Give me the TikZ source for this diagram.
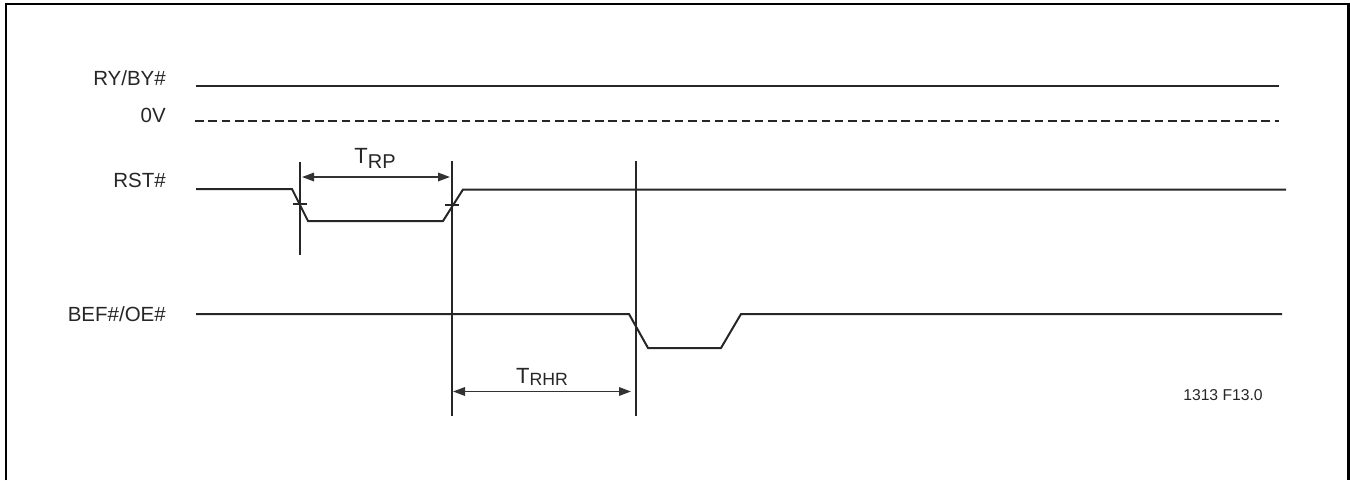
\documentclass[tikz,border=0pt]{standalone}
\usepackage{fontspec}
\setmainfont{Liberation Sans}
\usetikzlibrary{arrows.meta}
\tikzset{
  px/.style={x=1pt,y=-1pt},
  sig/.style={line width=2pt,draw=black!85},
  tickline/.style={line width=2pt,draw=black!85},
  dim/.style={line width=1.7pt,draw=black!80,{Triangle[length=12pt,width=8.5pt]}-{Triangle[length=12pt,width=8.5pt]}},
  lab/.style={anchor=base east,inner sep=0pt,font=\fontsize{20.5}{22}\selectfont,text=black!85},
  tim/.style={anchor=base,inner sep=0pt,font=\fontsize{22}{24}\selectfont,text=black!85}
}
\newcommand{\subt}[3]{\raisebox{#1}{\fontsize{#2}{#2}\selectfont #3}}
\begin{document}
\begin{tikzpicture}[px]
\useasboundingbox (0,0) rectangle (1350,480);
\draw[line width=2.2pt,black] (6.2,480) -- (6.2,4.2) -- (1348.4,4.2) -- (1348.4,480);
% labels
\node[lab] (lry) at (166,85) {RY/BY\#};
\node[lab] (lzv) at (166,122) {0V};
\node[lab] (lrst) at (166,187) {RST\#};
\node[lab] (lbef) at (166,321) {BEF\#/OE\#};
% signal ends
\coordinate (ry0) at (196,85.5);
\coordinate (ry1) at (1279,85.5);
\coordinate (zv0) at (195,121);
\coordinate (zv1) at (1279,121);
\draw[sig] (ry0) -- (ry1);
\draw[sig,dash pattern=on 8.6pt off 4.73pt] (zv0) -- (zv1);
\coordinate (r0) at (196,189);
\coordinate (r1) at (292,189);
\coordinate (r2) at (308,221);
\coordinate (r3) at (443,221);
\coordinate (r4) at (463,189.5);
\coordinate (r5) at (1286,189.5);
\draw[sig] (r0) -- (r1) -- (r2) -- (r3) -- (r4) -- (r5);
\coordinate (b0) at (196,314);
\coordinate (b1) at (629,314);
\coordinate (b2) at (648,348);
\coordinate (b3) at (721,348);
\coordinate (b4) at (741,314);
\coordinate (b5) at (1282,314);
\draw[sig] (b0) -- (b1) -- (b2) -- (b3) -- (b4) -- (b5);
% verticals
\coordinate (v1t) at (300,162);
\coordinate (v1b) at (300,255);
\coordinate (v2t) at (452,161);
\coordinate (v2b) at (452,416);
\coordinate (v3t) at (636,161);
\coordinate (v3b) at (636,416);
\draw[tickline] (v1t) -- (v1b);
\draw[tickline] (v2t) -- (v2b);
\draw[tickline] (v3t) -- (v3b);
% crossing ticks
\coordinate (t1a) at (293,204);
\coordinate (t1b) at (307,204);
\coordinate (t2a) at (445,205);
\coordinate (t2b) at (459,205);
\draw[line width=1.7pt,draw=black!85] (t1a) -- (t1b);
\draw[line width=1.7pt,draw=black!85] (t2a) -- (t2b);
% dimensions
\coordinate (d1a) at (302,177);
\coordinate (d1b) at (450,177);
\coordinate (d2a) at (453,391.5);
\coordinate (d2b) at (631,391.5);
\draw[dim] (d1a) -- (d1b);
\draw[dim] (d2a) -- (d2b);
\node[tim] (trp) at (375,163) {T\subt{-5pt}{20}{RP}};
\node[tim] (trhr) at (542,383) {T\subt{-2pt}{17.7}{RHR}};
\node[inner sep=0pt,font=\fontsize{15.7}{17}\selectfont,text=black!85] (fig) at (1223,395) {1313 F13.0};
\end{tikzpicture}
\end{document}
